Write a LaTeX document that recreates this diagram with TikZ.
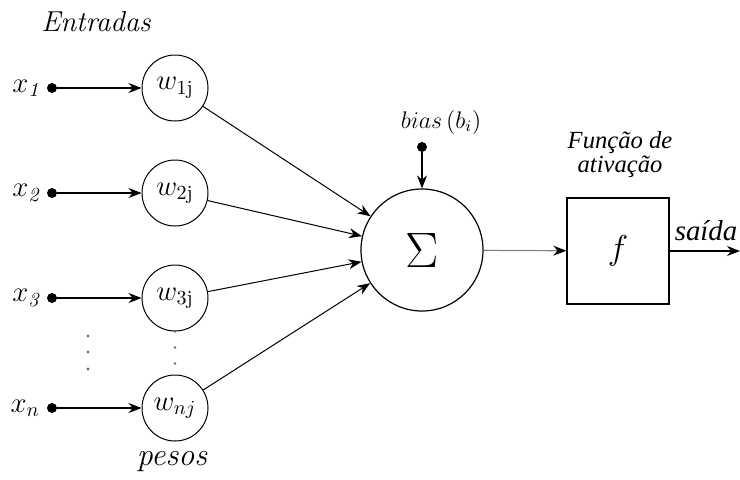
\documentclass[tikz,border=0pt]{standalone}
\usepackage{fontspec}
\usetikzlibrary{positioning, arrows.meta, calc}
\newfontfamily\timesfont{Liberation Serif}

\begin{document}
\begin{tikzpicture}[
  x=0.5pt, y=-0.5pt, font=\Large,
  peso/.style={draw, circle, line width=0.5pt, minimum size=33pt, inner sep=0pt},
  soma/.style={draw, circle, line width=0.6pt, minimum size=61pt, inner sep=0pt},
  ativ/.style={draw, line width=0.7pt, minimum width=51pt, minimum height=53pt},
  ent/.style={circle, fill, inner sep=0pt, minimum size=5pt},
  lbl/.style={font=\fontsize{16}{19}\selectfont\itshape},
  arr/.style={-{Stealth[length=6.5pt, width=5pt]}, line width=0.6pt},
]
  \useasboundingbox (0,0) rectangle (740,479);
  % inputs and weights
  \foreach \i/\y/\s/\t in {1/88/{\mathit{1}}/{\mathrm{1j}}, 2/193/{\mathit{2}}/{\mathrm{2j}},
                           3/298/{\mathit{3}}/{\mathrm{3j}}, n/408/{n}/{nj}} {
    \node[ent] (x\i) at (52,\y) {};
    \node[left=0pt of x\i] (lx\i) {$x_{\s}$};
    \node[peso] (w\i) at (175,\y) {$w_{\t}$};
    \draw[arr] (x\i) -- (w\i);
  }
  \node[lbl, font=\Large\itshape] (entradas) at (96,22) {Entradas};
  \node[lbl] (pesos) at (172,462) {pesos};
  % dots for the omitted inputs
  \foreach \y in {336,352,369} \fill[black!60] (88,\y) circle (0.8pt);
  \draw[black!60, line width=1.4pt, line cap=round, dash pattern=on 0pt off 8pt] (w3) -- (wn);
  % summation
  \node[soma] (sum) at (422,250) {\fontsize{26}{30}\selectfont$\Sigma$};
  \foreach \i in {1,2,3,n} \draw[arr, line width=0.5pt] (w\i) -- (sum);
  \node[ent] (bias) at (422,147) {};
  \node[font=\large] (biaslbl) at (441,122) {$bias\,(b_i)$};
  \draw[arr] (bias) -- (sum);
  % activation
  \node[ativ] (f) at (618,251) {\LARGE$f$};
  \node[font=\fontsize{12.3}{12}\selectfont\timesfont\itshape, align=center] (fatlbl) at (620,155) {Função de\\ativação};
  \draw[arr, gray, -{Stealth[length=6.5pt, width=5pt, black]}] (sum) -- (f);
  \coordinate (out) at (740,251);
  \draw[arr] (f) -- (out);
  \node[font=\Large\timesfont\itshape] (saida) at (706,231) {saída};
\end{tikzpicture}
\end{document}
